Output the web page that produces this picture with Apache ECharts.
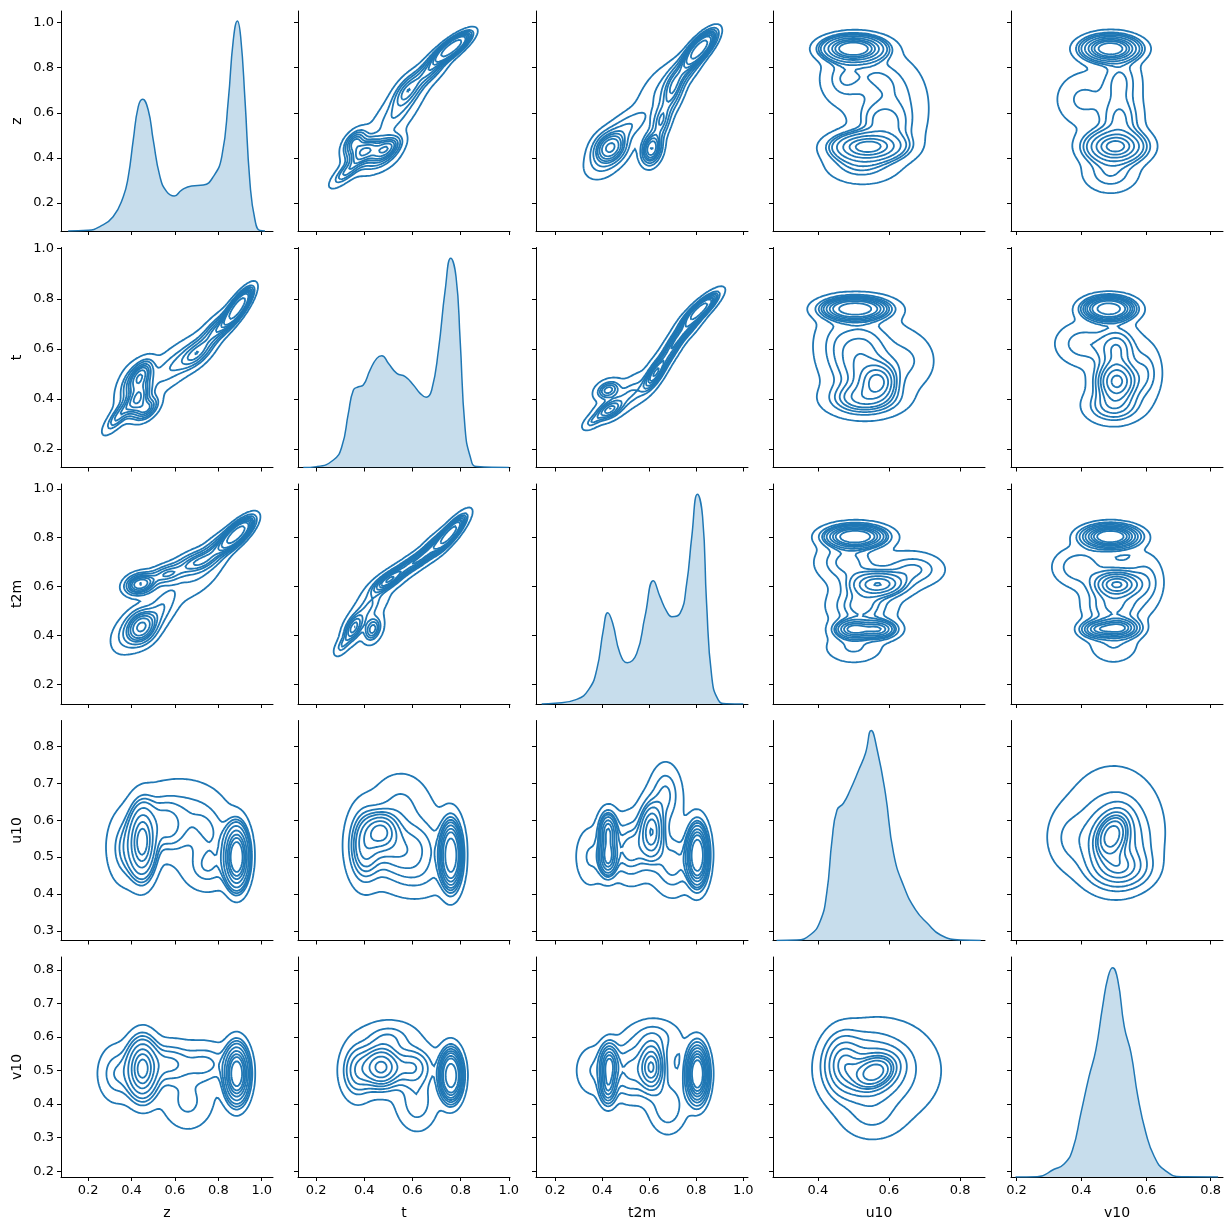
<!DOCTYPE html>
<html>
<head>
<meta charset="utf-8">
<script src="https://cdn.jsdelivr.net/npm/echarts@6/dist/echarts.min.js"></script>
<style>
html, body { margin: 0; padding: 0; background: #fff; }
#container { width: 1231px; height: 1231px; }
</style>
</head>
<body>
<div id="container"></div>
<script>
var names = ['z', 't', 't2m', 'u10', 'v10'];
var lows = [0.075, 0.125, 0.119, 0.274, 0.183];
var highs = [1.052, 1.005, 1.02, 0.870, 0.838];
var xTicks = [
  [0.2, 0.4, 0.6, 0.8, 1.0],
  [0.2, 0.4, 0.6, 0.8, 1.0],
  [0.2, 0.4, 0.6, 0.8, 1.0],
  [0.4, 0.6, 0.8],
  [0.2, 0.4, 0.6, 0.8]
];
var yTicks = [
  [0.2, 0.4, 0.6, 0.8, 1.0],
  [0.2, 0.4, 0.6, 0.8, 1.0],
  [0.2, 0.4, 0.6, 0.8, 1.0],
  [0.3, 0.4, 0.5, 0.6, 0.7, 0.8],
  [0.2, 0.3, 0.4, 0.5, 0.6, 0.7, 0.8]
];

// diagonal kde curves, height given as share of the panel height
var zKdeX = [0.108, 0.2, 0.254, 0.315, 0.362, 0.385, 0.408, 0.431, 0.451, 0.477, 0.50, 0.531, 0.562, 0.597, 0.631, 0.677, 0.731, 0.777, 0.816, 0.846, 0.869, 0.888, 0.903, 0.923, 0.946, 0.969, 0.992, 1.015];
var zKdeY = [0, 0.003, 0.02, 0.065, 0.156, 0.247, 0.414, 0.565, 0.599, 0.55, 0.414, 0.247, 0.179, 0.159, 0.186, 0.205, 0.209, 0.247, 0.338, 0.595, 0.868, 0.955, 0.883, 0.595, 0.217, 0.05, 0.002, 0];
var tKdeX = [0.147, 0.203, 0.272, 0.307, 0.334, 0.355, 0.376, 0.396, 0.424, 0.452, 0.473, 0.50, 0.535, 0.570, 0.604, 0.632, 0.657, 0.680, 0.708, 0.736, 0.759, 0.781, 0.798, 0.818, 0.840, 0.867, 1.0];
var tKdeY = [0, 0.004, 0.034, 0.095, 0.246, 0.352, 0.367, 0.375, 0.443, 0.496, 0.508, 0.474, 0.428, 0.413, 0.375, 0.337, 0.319, 0.352, 0.534, 0.807, 0.951, 0.867, 0.58, 0.185, 0.049, 0.004, 0];
var t2mKdeX = [0.143, 0.2, 0.292, 0.342, 0.377, 0.405, 0.424, 0.445, 0.476, 0.507, 0.547, 0.582, 0.618, 0.646, 0.675, 0.696, 0.731, 0.759, 0.781, 0.805, 0.827, 0.844, 0.866, 0.894, 0.929, 1.0];
var t2mKdeY = [0, 0.003, 0.021, 0.064, 0.155, 0.336, 0.415, 0.367, 0.23, 0.188, 0.23, 0.397, 0.56, 0.488, 0.42, 0.397, 0.412, 0.545, 0.76, 0.953, 0.851, 0.458, 0.124, 0.018, 0.001, 0];
var u10KdeX = [0.284, 0.341, 0.378, 0.406, 0.425, 0.440, 0.454, 0.472, 0.491, 0.515, 0.534, 0.550, 0.567, 0.590, 0.613, 0.642, 0.675, 0.708, 0.745, 0.802, 0.858];
var u10KdeY = [0, 0.002, 0.025, 0.085, 0.215, 0.457, 0.593, 0.624, 0.684, 0.775, 0.851, 0.954, 0.866, 0.669, 0.396, 0.245, 0.139, 0.078, 0.025, 0.002, 0];
var v10KdeX = [0.197, 0.264, 0.316, 0.347, 0.373, 0.399, 0.424, 0.445, 0.466, 0.483, 0.497, 0.513, 0.533, 0.554, 0.575, 0.600, 0.626, 0.657, 0.709, 0.823];
var v10KdeY = [0, 0.001, 0.035, 0.059, 0.123, 0.29, 0.456, 0.577, 0.774, 0.91, 0.951, 0.895, 0.683, 0.562, 0.365, 0.199, 0.092, 0.032, 0.001, 0];

// blobs of each lower panel: [x mean, y mean, x sd, y sd, corr, weight]
var zT = [
  [0.89, 0.765, 0.035, 0.04, 0.8, 0.25], [0.80, 0.68, 0.05, 0.045, 0.75, 0.10],
  [0.70, 0.58, 0.05, 0.04, 0.6, 0.10], [0.58, 0.52, 0.07, 0.06, 0.6, 0.09],
  [0.44, 0.49, 0.035, 0.04, 0.55, 0.12], [0.43, 0.40, 0.035, 0.04, 0.55, 0.12],
  [0.47, 0.36, 0.035, 0.03, 0.5, 0.07], [0.34, 0.33, 0.04, 0.04, 0.8, 0.05],
  [0.38, 0.45, 0.04, 0.06, 0.5, 0.06], [0.60, 0.55, 0.18, 0.16, 0.95, 0.08]
];
var zT2m = [
  [0.445, 0.435, 0.04, 0.04, 0.2, 0.17], [0.44, 0.61, 0.04, 0.025, 0.2, 0.11],
  [0.56, 0.65, 0.05, 0.025, 0.4, 0.06], [0.70, 0.70, 0.06, 0.03, 0.5, 0.09],
  [0.885, 0.815, 0.04, 0.035, 0.75, 0.26], [0.80, 0.76, 0.05, 0.04, 0.7, 0.07],
  [0.38, 0.40, 0.05, 0.05, 0.3, 0.05], [0.53, 0.50, 0.05, 0.06, 0.6, 0.07],
  [0.70, 0.64, 0.08, 0.06, 0.6, 0.06], [0.62, 0.60, 0.18, 0.16, 0.8, 0.06]
];
var tT2m = [
  [0.355, 0.43, 0.025, 0.035, 0.5, 0.10], [0.435, 0.425, 0.022, 0.03, 0.3, 0.07],
  [0.50, 0.625, 0.04, 0.03, 0.75, 0.13], [0.60, 0.695, 0.05, 0.035, 0.85, 0.11],
  [0.755, 0.815, 0.035, 0.04, 0.85, 0.27], [0.68, 0.76, 0.04, 0.04, 0.85, 0.09],
  [0.42, 0.52, 0.04, 0.05, 0.6, 0.09], [0.31, 0.36, 0.02, 0.025, 0.6, 0.02],
  [0.57, 0.64, 0.15, 0.16, 0.9, 0.07]
];
var zU10 = [
  [0.45, 0.54, 0.035, 0.055, 0, 0.24], [0.885, 0.50, 0.03, 0.045, 0, 0.28],
  [0.56, 0.58, 0.06, 0.045, -0.2, 0.06], [0.76, 0.57, 0.07, 0.05, -0.2, 0.05],
  [0.62, 0.64, 0.12, 0.05, 0, 0.07], [0.37, 0.52, 0.05, 0.06, 0, 0.06],
  [0.75, 0.47, 0.07, 0.04, 0, 0.05], [0.62, 0.57, 0.2, 0.08, 0, 0.08]
];
var tU10 = [
  [0.47, 0.57, 0.04, 0.03, 0, 0.10], [0.40, 0.53, 0.04, 0.06, 0, 0.14],
  [0.52, 0.52, 0.07, 0.05, 0, 0.12], [0.76, 0.505, 0.025, 0.05, 0, 0.26],
  [0.64, 0.53, 0.06, 0.05, 0, 0.06], [0.55, 0.65, 0.07, 0.05, 0, 0.06],
  [0.62, 0.45, 0.08, 0.04, 0, 0.05], [0.58, 0.55, 0.15, 0.09, 0, 0.10]
];
var t2mU10 = [
  [0.425, 0.57, 0.022, 0.03, 0, 0.07], [0.425, 0.50, 0.022, 0.03, 0, 0.08],
  [0.61, 0.57, 0.03, 0.045, 0, 0.14], [0.805, 0.505, 0.025, 0.045, 0, 0.26],
  [0.52, 0.52, 0.05, 0.05, 0, 0.10], [0.67, 0.67, 0.04, 0.05, 0, 0.06],
  [0.70, 0.48, 0.05, 0.05, 0, 0.08], [0.35, 0.50, 0.04, 0.05, 0, 0.04],
  [0.62, 0.56, 0.15, 0.09, 0, 0.07]
];
var zV10 = [
  [0.45, 0.505, 0.04, 0.05, 0, 0.27], [0.885, 0.49, 0.03, 0.045, 0, 0.30],
  [0.57, 0.52, 0.06, 0.035, 0, 0.06], [0.74, 0.52, 0.07, 0.035, 0, 0.05],
  [0.66, 0.40, 0.07, 0.05, 0, 0.05], [0.33, 0.49, 0.05, 0.05, 0, 0.05],
  [0.62, 0.50, 0.2, 0.08, 0, 0.09]
];
var tV10 = [
  [0.47, 0.51, 0.045, 0.035, 0, 0.20], [0.76, 0.485, 0.025, 0.04, 0, 0.27],
  [0.37, 0.50, 0.04, 0.05, 0, 0.09], [0.60, 0.51, 0.05, 0.035, 0, 0.08],
  [0.62, 0.40, 0.05, 0.05, 0, 0.06], [0.50, 0.60, 0.07, 0.03, 0, 0.05],
  [0.57, 0.50, 0.15, 0.08, 0, 0.09]
];
var t2mV10 = [
  [0.43, 0.515, 0.022, 0.035, 0, 0.10], [0.425, 0.45, 0.02, 0.03, 0, 0.05],
  [0.61, 0.51, 0.03, 0.04, 0, 0.14], [0.805, 0.49, 0.025, 0.045, 0, 0.26],
  [0.52, 0.50, 0.05, 0.05, 0, 0.10], [0.68, 0.39, 0.05, 0.05, 0, 0.06],
  [0.62, 0.60, 0.07, 0.035, 0, 0.05], [0.36, 0.50, 0.05, 0.05, 0, 0.04],
  [0.62, 0.50, 0.15, 0.08, 0, 0.07]
];
var u10V10 = [
  [0.56, 0.495, 0.035, 0.03, 0.3, 0.25], [0.47, 0.52, 0.03, 0.05, 0, 0.15],
  [0.53, 0.50, 0.06, 0.06, 0, 0.30], [0.60, 0.50, 0.09, 0.09, 0, 0.22],
  [0.55, 0.36, 0.05, 0.04, 0, 0.04]
];

var kdeX = [zKdeX, tKdeX, t2mKdeX, u10KdeX, v10KdeX];
var kdeY = [zKdeY, tKdeY, t2mKdeY, u10KdeY, v10KdeY];
var blobs = {
  '1,0': zT, '2,0': zT2m, '2,1': tT2m,
  '3,0': zU10, '3,1': tU10, '3,2': t2mU10,
  '4,0': zV10, '4,1': tV10, '4,2': t2mV10, '4,3': u10V10
};

var blue = '#1f77b4';
var font = 'DejaVu Sans';
var lefts = [61, 298, 536, 773, 1011];
var tops = [11, 247.5, 484, 720.5, 957];

function density(comps, x, y) {
  var s = 0;
  for (var k = 0; k < comps.length; k++) {
    var c = comps[k];
    var dx = (x - c[0]) / c[2], dy = (y - c[1]) / c[3], r = c[4];
    var q = (dx * dx - 2 * r * dx * dy + dy * dy) / (1 - r * r);
    s += c[5] / (2 * Math.PI * c[2] * c[3] * Math.sqrt(1 - r * r)) * Math.exp(-q / 2);
  }
  return s;
}

// iso-proportion contours like seaborn kdeplot (levels=10, thresh=0.05)
function contours(comps, xr, yr) {
  var n = 120, xs = [], ys = [], vals = [], all = [];
  for (var i = 0; i <= n; i++) {
    xs.push(xr[0] + (xr[1] - xr[0]) * i / n);
    ys.push(yr[0] + (yr[1] - yr[0]) * i / n);
  }
  for (var j = 0; j <= n; j++) {
    var row = [];
    for (var i = 0; i <= n; i++) {
      var v = density(comps, xs[i], ys[j]);
      row.push(v); all.push(v);
    }
    vals.push(row);
  }
  var sorted = all.slice().sort(function (a, b) { return b - a; });
  var total = 0;
  sorted.forEach(function (v) { total += v; });
  var cum = [], acc = 0;
  sorted.forEach(function (v) { acc += v; cum.push(acc / total); });
  var levels = [];
  for (var p = 0; p < 9; p++) {
    var prop = 0.05 + p * 0.95 / 9;
    var idx = 0;
    while (idx < cum.length - 1 && cum[idx] < 1 - prop) idx++;
    levels.push(sorted[idx]);
  }
  var paths = [];
  levels.forEach(function (L) {
    var adj = {}, pts = {};
    function edgePoint(key, x0, y0, v0, x1, y1, v1) {
      if (!pts[key]) {
        var f = (L - v0) / (v1 - v0);
        pts[key] = [x0 + f * (x1 - x0), y0 + f * (y1 - y0)];
      }
      return key;
    }
    function link(a, b) {
      (adj[a] = adj[a] || []).push(b);
      (adj[b] = adj[b] || []).push(a);
    }
    for (var j = 0; j < n; j++) {
      for (var i = 0; i < n; i++) {
        var bl = vals[j][i], br = vals[j][i + 1], tr = vals[j + 1][i + 1], tl = vals[j + 1][i];
        var e = {};
        if ((bl >= L) !== (br >= L)) e.b = edgePoint('h' + i + '_' + j, xs[i], ys[j], bl, xs[i + 1], ys[j], br);
        if ((tl >= L) !== (tr >= L)) e.t = edgePoint('h' + i + '_' + (j + 1), xs[i], ys[j + 1], tl, xs[i + 1], ys[j + 1], tr);
        if ((bl >= L) !== (tl >= L)) e.l = edgePoint('v' + i + '_' + j, xs[i], ys[j], bl, xs[i], ys[j + 1], tl);
        if ((br >= L) !== (tr >= L)) e.r = edgePoint('v' + (i + 1) + '_' + j, xs[i + 1], ys[j], br, xs[i + 1], ys[j + 1], tr);
        var ks = Object.keys(e);
        if (ks.length === 2) {
          link(e[ks[0]], e[ks[1]]);
        } else if (ks.length === 4) {
          var center = (bl + br + tr + tl) / 4;
          if ((center >= L) === (bl >= L)) {
            link(e.b, e.r); link(e.t, e.l);
          } else {
            link(e.b, e.l); link(e.t, e.r);
          }
        }
      }
    }
    var used = {};
    function walk(start) {
      var path = [start], cur = start;
      used[start] = true;
      while (true) {
        var nb = adj[cur].filter(function (k) { return !used[k]; });
        if (!nb.length) break;
        cur = nb[0]; used[cur] = true; path.push(cur);
      }
      if (path.length > 2 && adj[cur].indexOf(start) >= 0) path.push(start);
      return path.map(function (k) { return pts[k]; });
    }
    var keys = Object.keys(adj);
    keys.forEach(function (k) { if (!used[k] && adj[k].length === 1) paths.push(walk(k)); });
    keys.forEach(function (k) { if (!used[k]) paths.push(walk(k)); });
  });
  return paths;
}

var dom = document.getElementById('container');
var myChart = echarts.init(dom, null, { renderer: 'canvas' });

var grids = [], xAxes = [], yAxes = [], series = [];
var fmt = function (v) { return v.toFixed(1); };

for (var i = 0; i < 5; i++) {
  for (var j = 0; j < 5; j++) {
    var k = i * 5 + j;
    grids.push({ left: lefts[j], top: tops[i], width: 212, height: 220 });
    xAxes.push({
      gridIndex: k, type: 'value', min: lows[j], max: highs[j],
      name: i === 4 ? names[j] : '', nameLocation: 'middle', nameGap: 29,
      nameTextStyle: { color: '#000', fontSize: 14, fontFamily: font },
      axisLine: { onZero: false, lineStyle: { color: '#000', width: 1 } },
      axisTick: { show: true, length: 4, customValues: xTicks[j], lineStyle: { color: '#000', width: 1 } },
      axisLabel: { show: i === 4, customValues: xTicks[j], formatter: fmt, color: '#000', fontSize: 13, fontFamily: font, margin: 7 },
      splitLine: { show: false }
    });
    yAxes.push({
      gridIndex: k, type: 'value', min: lows[i], max: highs[i],
      name: j === 0 ? names[i] : '', nameLocation: 'middle', nameGap: 37, nameRotate: 90,
      nameTextStyle: { color: '#000', fontSize: 14, fontFamily: font },
      axisLine: { show: true, onZero: false, lineStyle: { color: '#000', width: 1 } },
      axisTick: { show: true, length: 4, customValues: yTicks[i], lineStyle: { color: '#000', width: 1 } },
      axisLabel: { show: j === 0, customValues: yTicks[i], formatter: fmt, color: '#000', fontSize: 13, fontFamily: font, margin: 7 },
      splitLine: { show: false }
    });
  }
}

// hidden density axes for the diagonal panels
for (var d = 0; d < 5; d++) {
  yAxes.push({ gridIndex: d * 6, type: 'value', min: 0, max: 1, show: false });
  series.push({
    type: 'line', xAxisIndex: d * 6, yAxisIndex: 25 + d,
    data: kdeX[d].map(function (x, m) { return [x, kdeY[d][m]]; }),
    smooth: 0.5, showSymbol: false, silent: true,
    lineStyle: { color: blue, width: 1.5 },
    areaStyle: { color: blue, opacity: 0.25 }
  });
}

Object.keys(blobs).forEach(function (key) {
  var ij = key.split(',').map(Number), r = ij[0], c = ij[1];
  var paths = contours(blobs[key], [lows[c], highs[c]], [lows[r], highs[r]]);
  series.push({
    type: 'lines', coordinateSystem: 'cartesian2d', polyline: true, silent: true,
    xAxisIndex: r * 5 + c, yAxisIndex: r * 5 + c,
    lineStyle: { color: blue, width: 1.8, opacity: 1 },
    data: paths.map(function (p) { return { coords: p }; })
  });
  // mirrored panel in the upper triangle
  series.push({
    type: 'lines', coordinateSystem: 'cartesian2d', polyline: true, silent: true,
    xAxisIndex: c * 5 + r, yAxisIndex: c * 5 + r,
    lineStyle: { color: blue, width: 1.8, opacity: 1 },
    data: paths.map(function (p) { return { coords: p.map(function (q) { return [q[1], q[0]]; }) }; })
  });
});

var option = {
  backgroundColor: '#fff',
  animation: false,
  grid: grids,
  xAxis: xAxes,
  yAxis: yAxes,
  series: series
};
myChart.setOption(option, true);
window.addEventListener('resize', function () {
  myChart.resize();
});
</script>
</body>
</html>
